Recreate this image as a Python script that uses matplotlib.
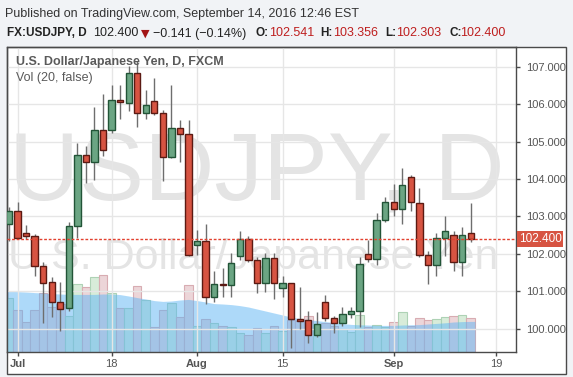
import numpy as np
import pandas as pd
import matplotlib.pyplot as plt
from matplotlib.patches import Rectangle

# USD/JPY daily candles, Jun 30 - Sep 14 2016
dates = pd.bdate_range('2016-06-30', '2016-09-14')
opens = [102.79, 103.15, 102.55, 102.47, 101.68, 101.24, 100.72, 100.55, 102.74, 104.64,
         104.44, 105.31, 105.31, 106.11, 106.04, 106.83, 105.76, 106.08, 105.76, 104.58,
         105.36, 105.20, 102.23, 102.35, 100.85, 101.19, 101.16, 101.93, 102.39, 101.83,
         101.21, 101.89, 101.07, 101.21, 100.25, 100.22, 99.82, 100.72, 100.27, 100.16,
         100.38, 100.46, 101.99, 101.86, 102.90, 103.39, 103.19, 104.04, 103.36, 101.96,
         101.70, 102.43, 102.50, 101.77, 102.541]
highs = [103.26, 103.37, 102.77, 102.52, 101.77, 101.37, 101.25, 102.86, 104.96, 104.87,
         105.91, 106.27, 106.51, 106.51, 107.02, 107.16, 106.38, 106.71, 105.85, 106.51,
         105.58, 105.58, 102.64, 102.79, 101.54, 101.62, 102.02, 102.61, 102.48, 101.90,
         102.02, 102.03, 101.41, 101.23, 101.12, 100.47, 100.43, 100.90, 100.34, 100.58,
         100.58, 101.92, 102.36, 103.10, 103.51, 103.86, 104.29, 104.11, 103.75, 102.08,
         102.55, 103.01, 102.61, 102.72, 103.356]
lows = [102.35, 102.38, 102.38, 101.41, 100.16, 100.32, 99.94, 100.48, 102.43, 103.89,
        103.97, 104.60, 105.24, 105.60, 105.82, 105.40, 105.60, 105.71, 103.95, 104.55,
        104.44, 101.93, 101.96, 100.65, 100.72, 100.85, 100.85, 101.83, 101.77, 100.94,
        100.98, 100.80, 100.83, 99.49, 100.00, 99.61, 99.78, 100.19, 99.89, 100.07,
        100.28, 100.03, 101.79, 101.71, 102.84, 103.01, 102.79, 103.13, 101.90, 101.19,
        101.41, 101.94, 101.55, 101.41, 102.303]
closes = [103.15, 102.41, 102.47, 101.66, 101.23, 100.72, 100.52, 102.73, 104.64, 104.44,
          105.31, 104.77, 106.11, 106.05, 106.83, 105.76, 105.97, 105.76, 104.58, 105.36,
          105.20, 101.96, 102.35, 100.85, 101.19, 101.16, 101.75, 102.39, 101.83, 101.21,
          101.89, 101.21, 101.21, 100.25, 100.21, 99.82, 100.12, 100.27, 100.16, 100.38,
          100.46, 101.72, 101.86, 102.90, 103.39, 103.19, 103.83, 103.37, 101.96, 101.70,
          102.43, 102.60, 101.77, 102.50, 102.400]
volume = [270, 210, 150, 210, 295, 225, 240, 180, 340, 325, 375, 385, 295, 220, 220, 330,
          260, 125, 210, 245, 175, 335, 130, 165, 145, 130, 125, 95, 85, 120, 95, 130,
          105, 160, 155, 180, 140, 145, 130, 115, 100, 185, 125, 135, 125, 150, 200, 130,
          170, 160, 165, 175, 180, 185, 170]
volume_ma = [305, 302, 300, 297, 295, 292, 290, 288, 288, 288, 288, 290, 290, 287, 280, 272,
             265, 257, 253, 255, 260, 263, 257, 250, 242, 240, 237, 232, 225, 215, 205, 195,
             185, 175, 167, 162, 157, 152, 147, 142, 138, 136, 135, 133, 133, 133, 135, 136,
             137, 140, 143, 146, 150, 152, 153]

tick_dates = ['2016-07-01', '2016-07-18', '2016-08-01', '2016-08-15', '2016-09-01', '2016-09-19']
tick_labels = ['Jul', '18', 'Aug', '15', 'Sep', '19']
price_ticks = [100, 101, 102, 103, 104, 105, 106, 107]

W, H = 573, 377
def fx(px):
    return px / W
def fy(py):
    return 1 - py / H

fig = plt.figure(figsize=(W / 100, H / 100), dpi=100, facecolor='#f1f3f6')
fig.patches.append(Rectangle((fx(7), fy(374)), fx(566) - fx(7), fy(47) - fy(374),
                             transform=fig.transFigure, facecolor='white',
                             edgecolor='#4a4a4a', lw=1, zorder=0.1))

rect = [fx(7), fy(352), fx(516) - fx(7), fy(47) - fy(352)]
ax_vol = fig.add_axes(rect, zorder=1)
ax = fig.add_axes(rect, zorder=2)
for a in (ax_vol, ax):
    a.patch.set_alpha(0)

# watermark
wm = '#e4e4e4'
fig.text(fx(9), fy(199), 'USDJPY, D', fontsize=70, color=wm, family='Liberation Sans',
         va='baseline', zorder=0.5)
fig.text(fx(8), fy(269), 'U.S. Dollar/Japanese Yen', fontsize=31, color=wm,
         family='Liberation Sans', va='baseline', zorder=0.5)

x = np.arange(len(opens))
all_days = pd.bdate_range('2016-06-30', '2016-09-23')
tick_pos = [all_days.get_loc(pd.Timestamp(d)) for d in tick_dates]
xlim = (-0.23, 59.3)

# volume
up = np.array(closes) >= np.array(opens)
ax_vol.bar(x, volume, width=1.0, color=np.where(up, '#d8ecd9', '#ecd5d8'),
           edgecolor=np.where(up, '#aed2b5', '#d8acb2'), lw=0.8, zorder=1)
xs = np.r_[x[0] - 0.5, x, x[-1] + 0.5]
ma = np.r_[volume_ma[0], volume_ma, volume_ma[-1]]
ax_vol.fill_between(xs, 0, ma, color='#5db5f5', alpha=0.5, lw=0, zorder=2)
ax_vol.set_xlim(xlim)
ax_vol.set_ylim(0, 1525)
ax_vol.axis('off')

# candles
green, green_edge = '#6ba583', '#225437'
red, red_edge = '#d75442', '#5b1a13'
ax.vlines(x, lows, highs, color='#6e6e6e', lw=1, zorder=3)
bottoms = np.minimum(opens, closes)
heights = np.maximum(np.abs(np.array(closes) - np.array(opens)), 0.02)
ax.bar(x, heights, bottom=bottoms, width=0.74, color=np.where(up, green, red),
       edgecolor=np.where(up, green_edge, red_edge), lw=1, zorder=4)

last = closes[-1]
ax.axhline(last, color='#e2412f', lw=1, ls=(0, (2, 1.3)), zorder=5)

ax.set_xlim(xlim)
ax.set_ylim(99.372, 107.527)
ax.set_yticks(price_ticks)
ax.set_yticklabels(['%.3f' % p for p in price_ticks])
ax.yaxis.tick_right()
ax.set_xticks(tick_pos)
ax.set_xticklabels(tick_labels)
for lbl in ax.get_xticklabels():
    if lbl.get_text() in ('Jul', 'Aug', 'Sep'):
        lbl.set_fontweight('bold')
ax.tick_params(axis='both', colors='#4a4a4a', labelcolor='#555555', length=3, width=1,
               labelsize=8)
ax.tick_params(axis='y', pad=4)
ax.tick_params(axis='x', pad=2)
for lbl in ax.get_xticklabels() + ax.get_yticklabels():
    lbl.set_family('Liberation Sans')
ax.grid(True, color='#e6e6e6', lw=1, zorder=0)
ax.set_axisbelow(True)
for s in ax.spines.values():
    s.set_color('#4a4a4a')
    s.set_linewidth(1)

# last price label
fig.canvas.draw()
y_last = ax.transData.transform((0, last))[1] / (H)
fig.patches.append(Rectangle((fx(517), y_last - 8 / H), fx(563) - fx(517), 16 / H,
                             transform=fig.transFigure, facecolor='#d75442', lw=0, zorder=5))
fig.text(fx(540), y_last, '%.3f' % last, color='white', fontsize=8.5, ha='center',
         va='center', family='Liberation Sans', zorder=6)

# legend texts
fig.text(fx(16), fy(64.5), 'U.S. Dollar/Japanese Yen, D, FXCM', fontsize=9, weight='bold',
         color='#5a5a5a', family='Liberation Sans', va='baseline', zorder=6)
fig.text(fx(16), fy(80.5), 'Vol (20, false)', fontsize=9, color='#5a5a5a',
         family='Liberation Sans', va='baseline', zorder=6)

# header
fig.text(fx(5), fy(16.5), 'Published on TradingView.com, September 14, 2016 12:46 EST',
         fontsize=9, color='#333333', family='Liberation Sans', va='baseline')
dark, vred = '#222222', '#be1e1e'
pieces = [
    (7, 'FX:USDJPY, D', dark, 'bold', 8.5),
    (93, '102.400', dark, 'normal', 9),
    (153, '\u22120.141 (\u22120.14%)', dark, 'normal', 9),
    (256, 'O:', dark, 'bold', 8.5),
    (269, '102.541', vred, 'normal', 9),
    (320, 'H:', dark, 'bold', 8.5),
    (333, '103.356', vred, 'normal', 9),
    (385, 'L:', dark, 'bold', 8.5),
    (396, '102.303', vred, 'normal', 9),
    (449, 'C:', dark, 'bold', 8.5),
    (460, '102.400', vred, 'normal', 9),
]
for px, txt, col, wt, sz in pieces:
    fig.text(fx(px), fy(36.5), txt, color=col, weight=wt, fontsize=sz,
             family='Liberation Sans', va='baseline')
fig.text(fx(140.5), fy(36.5), '\u25bc', color='#a31515', fontsize=8, family='DejaVu Sans',
         va='baseline')

fig.savefig('out.png', dpi=100, facecolor=fig.get_facecolor())
